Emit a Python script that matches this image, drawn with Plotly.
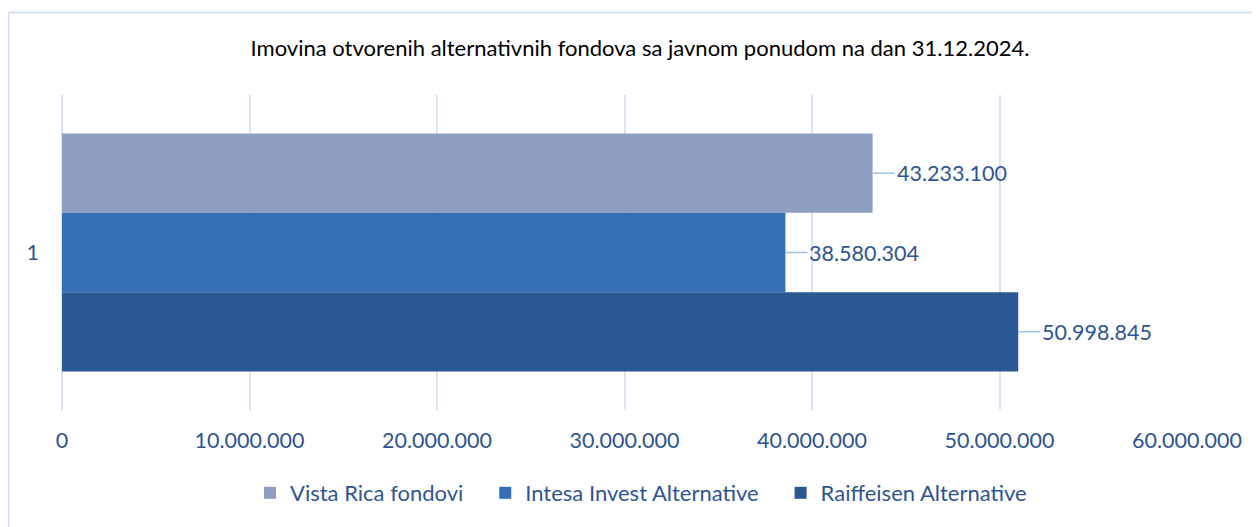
import plotly.graph_objects as go

categories = ["1"]
series_names = ["Vista Rica fondovi", "Intesa Invest Alternative", "Raiffeisen Alternative"]
series_values = [43233100, 38580304, 50998845]
series_colors = ["#8D9EC2", "#346EB6", "#295893"]
x_tickvals = [0, 10000000, 20000000, 30000000, 40000000, 50000000, 60000000]
x_ticktext = ["0", "10.000.000", "20.000.000", "30.000.000", "40.000.000", "50.000.000", "60.000.000"]
title_text = "Imovina otvorenih alternativnih fondova sa javnom ponudom na dan 31.12.2024."

FONT = "Lato"
TXT = "#2F5496"
GRID = "#D9E3F3"
BARGAP = 0.245

# page body has an 8px margin; figure sized/positioned to compensate
W, H = 1252, 519
OFF = 8
PL, PR, PT, PB = 62, 1187, 95, 410  # plot area in page pixels


def fmt(v):
    return f"{v:,}".replace(",", ".")


fig = go.Figure()
for k, (name, val, col) in enumerate(zip(series_names, series_values, series_colors)):
    label = name + ("\u00a0" * 3 if k < len(series_names) - 1 else "")
    fig.add_trace(go.Bar(
        y=categories, x=[val], name=label, orientation="h",
        marker=dict(color=col, line=dict(width=0)),
        hovertemplate=name + ": %{x}<extra></extra>",
    ))

# data labels with leader lines
n = len(series_values)
w = (1 - BARGAP) / n
annotations = []
for i, val in enumerate(series_values):
    ypos = -(1 - BARGAP) / 2 + (i + 0.5) * w
    annotations.append(dict(
        x=val, y=ypos, xref="x", yref="y", text=fmt(val),
        showarrow=True, arrowhead=0, arrowwidth=1.5, arrowcolor="#9DC3E6",
        ax=22, ay=0, xanchor="left", yanchor="middle",
        font=dict(family=FONT, size=21.5, color=TXT),
    ))

pw = PR - PL
ph = PB - PT


def px_x(p):
    return (p - PL) / pw


def px_y(p):
    return (PB - p) / ph


fig.update_layout(
    width=W, height=H,
    margin=dict(l=PL - OFF, r=W - (PR - OFF), t=PT - OFF, b=H - (PB - OFF), pad=0),
    paper_bgcolor="white", plot_bgcolor="white",
    barmode="group", bargap=BARGAP, bargroupgap=0,
    title=dict(text=title_text, x=(640 - OFF) / W, xref="container", xanchor="center",
               y=1 - (48 - OFF) / H, yref="container", yanchor="middle",
               font=dict(family=FONT, size=22, color="#000000")),
    xaxis=dict(range=[0, 60000000], tickvals=x_tickvals, ticktext=x_ticktext,
               showgrid=True, gridcolor=GRID, gridwidth=2,
               zeroline=True, zerolinecolor=GRID, zerolinewidth=2,
               showline=False, ticks="", ticklabelstandoff=15,
               tickfont=dict(family=FONT, size=21.5, color=TXT)),
    yaxis=dict(type="category", range=[0.5, -0.5], showgrid=False, zeroline=False,
               showline=False, ticks="", ticklabelstandoff=22,
               tickfont=dict(family=FONT, size=21.5, color=TXT)),
    legend=dict(orientation="h", x=px_x(641), xanchor="center",
                y=px_y(493), yanchor="middle", traceorder="normal",
                font=dict(family=FONT, size=22, color=TXT),
                itemwidth=30),
    annotations=annotations,
    shapes=[dict(type="rect", xref="paper", yref="paper",
                 x0=px_x(8.5), x1=px_x(1275),
                 y0=px_y(545), y1=px_y(12.5),
                 line=dict(color="#D6E2F3", width=2), fillcolor="rgba(0,0,0,0)",
                 layer="below")],
)

fig.write_html("out.html")
